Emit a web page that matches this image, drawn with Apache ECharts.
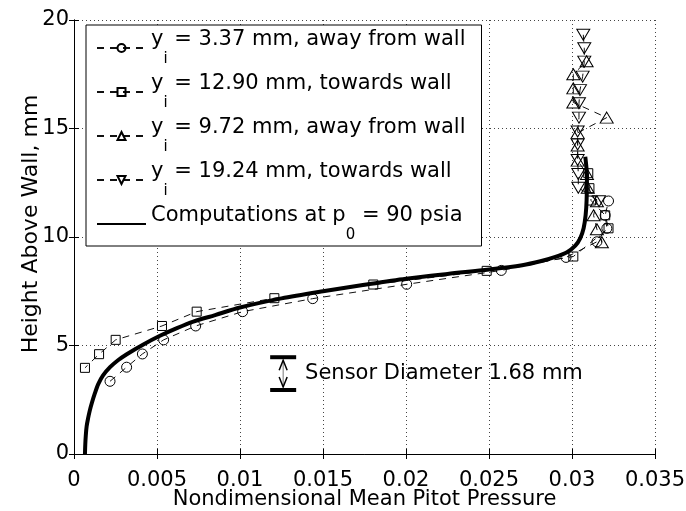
<!DOCTYPE html>
<html><head><meta charset="utf-8">
<script src="https://cdn.jsdelivr.net/npm/echarts@6/dist/echarts.min.js"></script>
<style>html,body{margin:0;padding:0;background:#fff}#c{width:686px;height:511px}</style>
</head><body><div id="c"></div>
<script>
const FONT = 'DejaVu Sans';

// Axis tick labels
const xTickLabels = ['0', '0.005', '0.01', '0.015', '0.02', '0.025', '0.03', '0.035'];
const yTickLabels = ['0', '5', '10', '15', '20'];

// y_i = 3.37 mm, away from wall (circles)
const s1x = [0.00217, 0.00317, 0.00412, 0.00540, 0.00733, 0.01016, 0.01438, 0.02004, 0.02574, 0.02964, 0.03150, 0.03210, 0.03200, 0.03220];
const s1y = [3.35, 4.00, 4.61, 5.26, 5.90, 6.56, 7.16, 7.82, 8.46, 9.06, 9.78, 10.40, 11.00, 11.66];

// y_i = 12.90 mm, towards wall (squares)
const s2x = [0.03098, 0.03105, 0.03115, 0.03200, 0.03220, 0.03008, 0.02486, 0.01803, 0.01207, 0.00739, 0.00530, 0.00251, 0.00151, 0.00066];
const s2y = [12.94, 12.25, 11.68, 11.00, 10.40, 9.10, 8.44, 7.81, 7.18, 6.56, 5.90, 5.26, 4.60, 3.97];

// y_i = 9.72 mm, away from wall (up triangles)
const s3x = [0.03180, 0.03150, 0.03130, 0.03150, 0.03095, 0.03090, 0.03034, 0.03034, 0.03034, 0.03209, 0.03008, 0.03008, 0.03008, 0.03088];
const s3y = [9.76, 10.36, 11.00, 11.65, 12.27, 12.90, 13.52, 14.22, 14.80, 15.50, 16.20, 16.85, 17.50, 18.10];

// y_i = 19.24 mm, towards wall (down triangles)
const s4x = [0.03068, 0.03074, 0.03074, 0.03064, 0.03048, 0.03042, 0.03042, 0.03034, 0.03034, 0.03034, 0.03038, 0.03038, 0.03163];
const s4y = [19.32, 18.70, 18.08, 17.39, 16.77, 16.16, 15.50, 14.86, 14.26, 13.55, 12.90, 12.27, 11.65];

// Computations at p0 = 90 psia
const cx = [0.00066, 0.00068, 0.00071, 0.00076, 0.00085, 0.00095, 0.00107, 0.00125, 0.00146, 0.00175, 0.00217, 0.00265, 0.00318, 0.00418, 0.00518, 0.00620, 0.00719, 0.00850, 0.01000, 0.01250, 0.01500, 0.01750, 0.02000, 0.02250, 0.02500, 0.02700, 0.02810, 0.02900, 0.02970, 0.03020, 0.03050, 0.03070, 0.03082, 0.03088, 0.03090, 0.03080];
const cy = [0.00, 0.45, 0.85, 1.27, 1.65, 2.00, 2.34, 2.78, 3.22, 3.62, 4.00, 4.32, 4.60, 5.05, 5.45, 5.80, 6.10, 6.40, 6.75, 7.17, 7.50, 7.80, 8.08, 8.30, 8.50, 8.70, 8.88, 9.08, 9.30, 9.60, 9.95, 10.40, 11.00, 11.70, 12.80, 13.70];

// Sensor diameter annotation
const sensorX = [0.0126];
const sensorLow = [2.95];
const sensorHigh = [4.46];
const sensorLabelPos = [0.01392, 3.72];
const sensorLabel = 'Sensor Diameter 1.68 mm';

const legendRich = {
  s1: '{a|y}{s|i}{a| = 3.37 mm, away from wall}',
  s2: '{a|y}{s|i}{a| = 12.90 mm, towards wall}',
  s3: '{a|y}{s|i}{a| = 9.72 mm, away from wall}',
  s4: '{a|y}{s|i}{a| = 19.24 mm, towards wall}',
  comp: '{a|Computations at p}{s|0}{a| = 90 psia}'
};

const zip = (xs, ys) => xs.map((x, i) => [x, ys[i]]);

const markerStyle = { color: 'rgba(0,0,0,0)', borderColor: '#000', borderWidth: 1 };
const dashLine = { color: '#111', width: 1, type: [7, 6] };

function expSeries(name, xs, ys, symbol, size, rotate) {
  return {
    name, type: 'line', data: zip(xs, ys), symbol, symbolSize: size, symbolRotate: rotate || 0,
    showAllSymbol: true, itemStyle: markerStyle, lineStyle: dashLine, z: 3,
    emphasis: { disabled: true }
  };
}

const chart = echarts.init(document.getElementById('c'), null, { renderer: 'canvas' });
chart.setOption({
  animation: false,
  backgroundColor: '#fff',
  grid: { left: 74, right: 31, top: 20, bottom: 57, containLabel: false, outerBoundsMode: 'none' },
  xAxis: [{
    type: 'value', min: 0, max: 0.035, interval: 0.005, position: 'bottom',
    axisLine: { show: true, lineStyle: { color: '#000', width: 1 } },
    axisTick: { show: true, inside: true, length: 5, lineStyle: { color: '#000' } },
    axisLabel: { color: '#000', fontFamily: FONT, fontSize: 21, margin: 16,
      formatter: v => xTickLabels[Math.round(v / 0.005)] },
    splitLine: { show: true, lineStyle: { color: '#444', width: 1, type: [1, 3] } },
    name: 'Nondimensional Mean Pitot Pressure', nameLocation: 'middle', nameGap: 35, nameMoveOverlap: false,
    nameTextStyle: { color: '#000', fontFamily: FONT, fontSize: 21 }
  }, {
    type: 'value', min: 0, max: 0.035, interval: 0.005, position: 'top',
    axisLine: { show: true, lineStyle: { color: '#000', width: 1 } },
    axisTick: { show: true, inside: true, length: 5, lineStyle: { color: '#000' } },
    axisLabel: { show: false }, splitLine: { show: false }
  }],
  yAxis: [{
    type: 'value', min: 0, max: 20, interval: 5, position: 'left',
    axisLine: { show: true, lineStyle: { color: '#000', width: 1 } },
    axisTick: { show: true, inside: true, length: 5, lineStyle: { color: '#000' } },
    axisLabel: { color: '#000', fontFamily: FONT, fontSize: 21, margin: 5,
      formatter: v => yTickLabels[Math.round(v / 5)] },
    splitLine: { show: true, lineStyle: { color: '#444', width: 1, type: [1, 3] } },
    name: 'Height Above Wall, mm', nameLocation: 'middle', nameGap: 32, nameRotate: 90, nameMoveOverlap: false,
    nameTextStyle: { color: '#000', fontFamily: FONT, fontSize: 22, padding: [0, 0, 0, 26] }
  }, {
    type: 'value', min: 0, max: 20, interval: 5, position: 'right',
    axisLine: { show: true, lineStyle: { color: '#000', width: 1 } },
    axisTick: { show: true, inside: true, length: 5, lineStyle: { color: '#000' } },
    axisLabel: { show: false }, splitLine: { show: false }
  }],
  legend: {
    orient: 'vertical', left: 86, top: 25,
    padding: [4, 16, 3, 10], itemGap: 6, itemWidth: 49, itemHeight: 10,
    backgroundColor: '#fff', borderColor: '#000', borderWidth: 1, borderRadius: 0,
    selectedMode: false,
    data: ['s1', 's2', 's3', 's4',
      { name: 'comp', itemStyle: { color: 'rgba(0,0,0,0)', borderColor: 'rgba(0,0,0,0)', borderWidth: 0 } }],
    formatter: n => legendRich[n],
    textStyle: {
      color: '#000', fontFamily: FONT, fontSize: 21,
      rich: {
        a: { color: '#000', fontFamily: FONT, fontSize: 21, verticalAlign: 'top' },
        s: { color: '#000', fontFamily: FONT, fontSize: 15, verticalAlign: 'top', padding: [23, 0, 0, 0] }
      }
    }
  },
  series: [
    expSeries('s1', s1x, s1y, 'circle', 10),
    expSeries('s2', s2x, s2y, 'rect', 9),
    expSeries('s3', s3x, s3y, 'triangle', [13, 11]),
    expSeries('s4', s4x, s4y, 'triangle', [13, 11], 180),
    {
      name: 'comp', type: 'line', data: zip(cx, cy), symbol: 'circle', symbolSize: 0, showSymbol: false,
      smooth: 0.3,
      itemStyle: { color: 'rgba(0,0,0,0)', borderWidth: 0 },
      lineStyle: { color: '#000', width: 4 }, z: 4, emphasis: { disabled: true }
    },
    {
      type: 'custom', silent: true, z: 5,
      data: [[sensorX[0], sensorLow[0], sensorHigh[0], sensorLabelPos[0], sensorLabelPos[1]]],
      renderItem: (params, api) => {
        const lo = api.coord([api.value(0), api.value(1)]);
        const hi = api.coord([api.value(0), api.value(2)]);
        const lp = api.coord([api.value(3), api.value(4)]);
        const x = lo[0], hw = 13;
        return {
          type: 'group', children: [
            { type: 'line', shape: { x1: x - hw, y1: lo[1], x2: x + hw, y2: lo[1] }, style: { stroke: '#000', lineWidth: 4 } },
            { type: 'line', shape: { x1: x - hw, y1: hi[1], x2: x + hw, y2: hi[1] }, style: { stroke: '#000', lineWidth: 4 } },
            { type: 'line', shape: { x1: x, y1: hi[1] + 3, x2: x, y2: lo[1] - 3 }, style: { stroke: '#777', lineWidth: 1 } },
            { type: 'polyline', shape: { points: [[x - 4, hi[1] + 13], [x, hi[1] + 3], [x + 4, hi[1] + 13]] }, style: { stroke: '#000', lineWidth: 1.5, fill: null } },
            { type: 'polyline', shape: { points: [[x - 4, lo[1] - 13], [x, lo[1] - 3], [x + 4, lo[1] - 13]] }, style: { stroke: '#000', lineWidth: 1.5, fill: null } },
            { type: 'text', style: { text: sensorLabel, x: lp[0], y: lp[1], fill: '#000', fontFamily: FONT, fontSize: 21, align: 'left', verticalAlign: 'middle' } }
          ]
        };
      }
    }
  ]
});
</script>
</body></html>
